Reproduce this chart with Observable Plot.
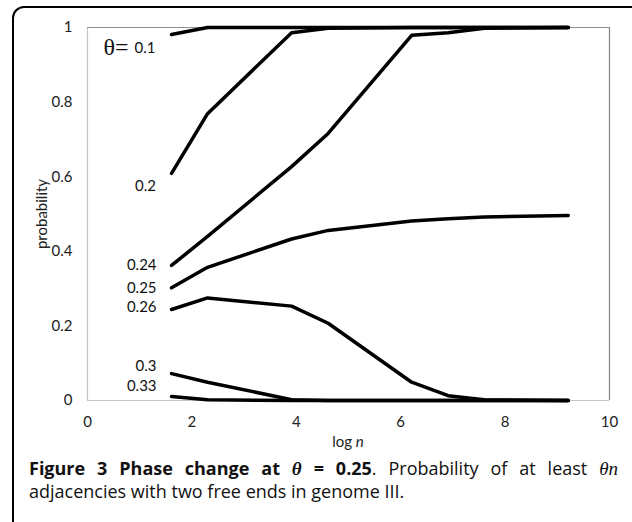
<!DOCTYPE html>
<html><head><meta charset="utf-8">
<script src="https://cdn.jsdelivr.net/npm/d3@7"></script>
<script src="https://cdn.jsdelivr.net/npm/@observablehq/plot@0.6"></script>
<style>
html,body{margin:0;padding:0;background:#fff;width:632px;height:522px;overflow:hidden;}
#wrap{position:relative;width:632px;height:522px;overflow:hidden;}
#border{position:absolute;left:12px;top:6px;width:660px;height:580px;border:2px solid #000;border-radius:12px;box-sizing:border-box;}
#chart{position:absolute;left:0;top:0;}
#caption{position:absolute;left:29px;top:457px;width:589px;font-family:"Open Sans";font-size:18px;line-height:23px;color:#111;}
#caption .l1{text-align:justify;text-align-last:justify;}
#caption .l2{text-align:left;}
#caption i.m{font-family:"Liberation Serif";font-size:19px;}
</style></head>
<body><div id="wrap"><div id="border"></div><div id="chart"></div>
<div id="caption"><div class="l1"><b>Figure 3 Phase change at <i class="m">θ</i> = 0.25</b>. Probability of at least <i class="m">θn</i></div><div class="l2">adjacencies with two free ends in genome III.</div></div></div>
<script>
// data
const logN = [1.61, 2.30, 3.91, 4.61, 6.21, 6.91, 7.60, 9.21];
const thetaLabels = ["0.1", "0.2", "0.24", "0.25", "0.26", "0.3", "0.33"];
const p_010 = [0.981, 1, 1, 1, 1, 1, 1, 1];
const p_020 = [0.609, 0.769, 0.986, 0.998, 1, 1, 1, 1];
const p_024 = [0.362, 0.44, 0.627, 0.716, 0.979, 0.986, 0.998, 1];
const p_025 = [0.302, 0.357, 0.433, 0.456, 0.481, 0.487, 0.492, 0.496];
const p_026 = [0.244, 0.275, 0.253, 0.207, 0.049, 0.013, 0.002, 0];
const p_030 = [0.072, 0.049, 0.002, 0, 0, 0, 0, 0];
const p_033 = [0.011, 0.002, 0, 0, 0, 0, 0, 0];
const yTicks = [0, 0.2, 0.4, 0.6, 0.8, 1];
const xTicks = [0, 2, 4, 6, 8, 10];

const series = [p_010, p_020, p_024, p_025, p_026, p_030, p_033];
const rows = series.flatMap((vals, i) => vals.map((v, j) => ({theta: thetaLabels[i], x: logN[j], y: v})));
const starts = series.map((vals, i) => ({theta: thetaLabels[i], x: logN[0], y: vals[0]}));

// label placement (style)
const labelStyle = {
  "0.1": {dx: -16, dy: 14, textAnchor: "end"},
  "0.2": {dx: -26, dy: 13, textAnchor: "middle"},
  "0.24": {dx: -15, dy: 0, textAnchor: "end"},
  "0.25": {dx: -15, dy: 0, textAnchor: "end"},
  "0.26": {dx: -15, dy: -2, textAnchor: "end"},
  "0.3": {dx: -15, dy: -7, textAnchor: "end"},
  "0.33": {dx: -15, dy: -10, textAnchor: "end"}
};
const labelMarks = starts.map(s => Plot.text([s], {
  x: "x", y: "y", text: "theta", fill: "#111", fontSize: 15, ...labelStyle[s.theta]
}));

const chart = Plot.plot({
  width: 632, height: 452,
  marginLeft: 87, marginRight: 23, marginTop: 27, marginBottom: 52,
  style: {fontFamily: "Lato", fontSize: "15px", color: "#222", background: "transparent"},
  x: {domain: [0, 10], ticks: xTicks, tickSize: 0, tickPadding: 16, label: null, tickFormat: d => String(d)},
  y: {domain: [0, 1], ticks: yTicks, tickSize: 0, tickPadding: 15, label: "probability", labelAnchor: "center", labelArrow: "none", labelOffset: 51, tickFormat: d => String(d)},
  marks: [
    Plot.ruleX([0], {stroke: "#c4c4c4", strokeWidth: 1.2}),
    Plot.ruleY([0], {stroke: "#c4c4c4", strokeWidth: 1.2}),
    Plot.ruleX([10], {stroke: "#808080", strokeWidth: 1.2}),
    Plot.ruleY([1], {stroke: "#909090", strokeWidth: 1.2}),
    Plot.line(rows, {x: "x", y: "y", z: "theta", stroke: "#000", strokeWidth: 3.5, strokeLinejoin: "round", strokeLinecap: "round"}),
    ...labelMarks,
    Plot.text([starts[0]], {x: "x", y: "y", text: () => "θ=", dx: -43, dy: 13, textAnchor: "end", fontFamily: "Liberation Serif", fontSize: 24, fill: "#111"})
  ]
});
document.getElementById("chart").appendChild(chart);

// x-axis label with italic n
const xs = chart.scale("x"), ys = chart.scale("y");
const t = d3.select(chart).append("text")
  .attr("x", xs.apply(5)).attr("y", ys.apply(0) + 47)
  .attr("text-anchor", "middle").attr("fill", "#222")
  .style("font-family", "Lato").style("font-size", "15px");
t.append("tspan").text("log ");
t.append("tspan").style("font-style", "italic").text("n");
</script>
</body></html>
